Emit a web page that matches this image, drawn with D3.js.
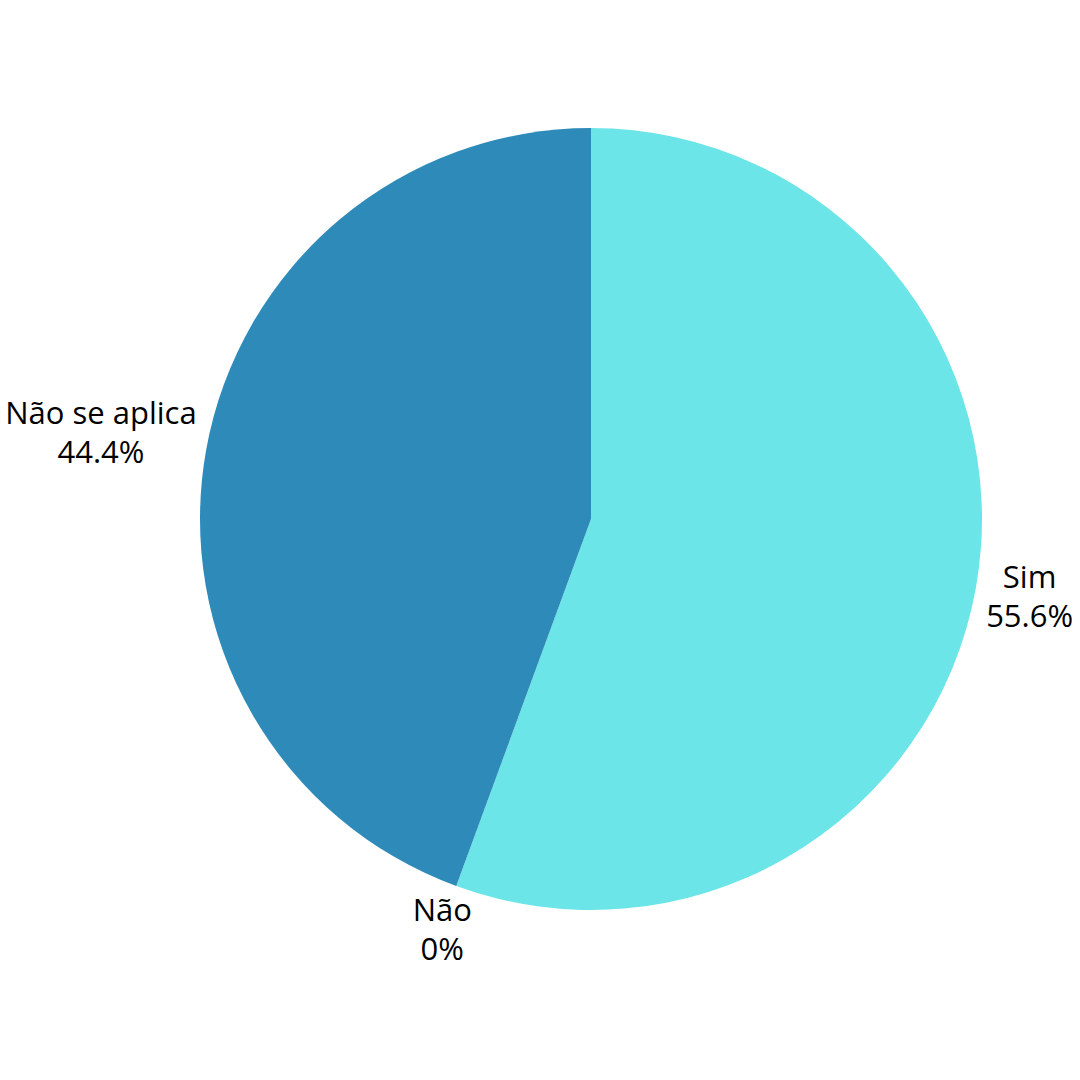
<!DOCTYPE html>
<html>
<head>
<meta charset="utf-8">
<script src="https://cdn.jsdelivr.net/npm/d3@7"></script>
<style>
  html, body { margin: 0; padding: 0; background: #ffffff; }
  svg { display: block; }
</style>
</head>
<body>
<svg id="chart" width="1080" height="1080"></svg>
<script>
const categories = ["Sim", "Não", "Não se aplica"];
const values = [55.6, 0, 44.4];
const valueLabels = ["55.6%", "0%", "44.4%"];
const colors = ["#6ce5e8", "#2e8bb9", "#2e8bb9"];

const W = 1080, H = 1080;
const cx = 591, cy = 519, radius = 391;
const labelR = 400;
const fontSize = 31;
const lineGap = 39;

const svg = d3.select("#chart");
const g = svg.append("g").attr("transform", `translate(${cx},${cy})`);

const data = categories.map((c, i) => ({ cat: c, value: values[i], label: valueLabels[i], color: colors[i] }));

const pie = d3.pie().value(d => d.value).sort(null).startAngle(0).endAngle(2 * Math.PI);
const arcs = pie(data);
const arc = d3.arc().innerRadius(0).outerRadius(radius);

g.selectAll("path.slice")
  .data(arcs)
  .enter()
  .append("path")
  .attr("class", "slice")
  .attr("d", arc)
  .attr("fill", d => d.data.color)
  .attr("stroke", "none");

const labels = g.selectAll("g.lbl")
  .data(arcs)
  .enter()
  .append("g")
  .attr("class", "lbl");

labels.each(function(d) {
  const sel = d3.select(this);
  const t = sel.append("text")
    .attr("text-anchor", "middle")
    .attr("font-family", "'Open Sans', sans-serif")
    .attr("font-size", fontSize)
    .attr("fill", "#000");
  t.append("tspan").attr("x", 0).attr("dy", 0).text(d.data.cat);
  t.append("tspan").attr("x", 0).attr("dy", lineGap).text(d.data.label);
  const bb = t.node().getBBox();
  const hw = bb.width / 2, hh = bb.height / 2;
  const mid = (d.startAngle + d.endAngle) / 2;
  const s = Math.sin(mid), c = Math.cos(mid);
  const px = 402 * s + s * hw;
  const py = -labelR * c - c * hh * (c > 0 ? 2.5 : 0.9);
  const bcx = bb.x + hw, bcy = bb.y + hh;
  t.attr("transform", `translate(${px - bcx},${py - bcy})`);
});
</script>
</body>
</html>
